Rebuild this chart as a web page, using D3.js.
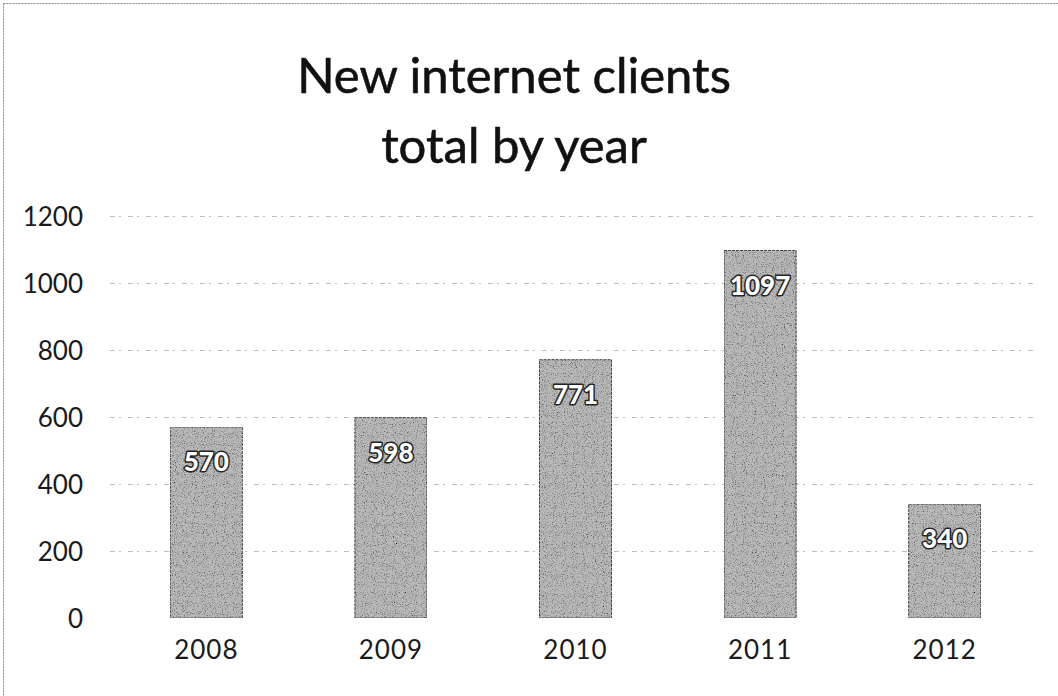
<!DOCTYPE html>
<html>
<head>
<meta charset="utf-8">
<script src="https://cdn.jsdelivr.net/npm/d3@7/dist/d3.min.js"></script>
<style>
  html, body { margin: 0; padding: 0; background: #fff; }
  svg { display: block; }
</style>
</head>
<body>
<svg id="chart" width="1058" height="696"></svg>
<script>
// Chart data
const years = ["2008", "2009", "2010", "2011", "2012"];
const clients = [570, 598, 771, 1097, 340];
const yTicks = [0, 200, 400, 600, 800, 1000, 1200];
const titleLines = ["New internet clients", "total by year"];

const W = 1058, H = 696;
const svg = d3.select("#chart");

// Grain texture used on the bar fills
const defs = svg.append("defs");
const grain = defs.append("filter").attr("id", "grain")
  .attr("x", 0).attr("y", 0).attr("width", 1).attr("height", 1);
grain.append("feTurbulence").attr("type", "fractalNoise")
  .attr("baseFrequency", 0.9).attr("numOctaves", 2).attr("seed", 7).attr("result", "noise");
grain.append("feColorMatrix").attr("in", "noise").attr("type", "matrix")
  .attr("values", "0 0 0 0 0  0 0 0 0 0  0 0 0 0 0  0 0 0 -2.4 1.2")
  .attr("result", "specks");
grain.append("feComposite").attr("in", "specks").attr("in2", "SourceGraphic")
  .attr("operator", "in").attr("result", "specksIn");
grain.append("feMerge").selectAll("feMergeNode")
  .data(["SourceGraphic", "specksIn"]).join("feMergeNode").attr("in", d => d);

// Frame
svg.append("rect")
  .attr("x", 3.5).attr("y", 3.5).attr("width", W + 10).attr("height", H + 10)
  .attr("fill", "none").attr("stroke", "#8a8a8a").attr("stroke-width", 1)
  .attr("stroke-dasharray", "2 1");

// Scales
const x = d3.scaleBand().domain(years).range([114, 1037])
  .paddingInner(0.61).paddingOuter(0.305);
const y = d3.scaleLinear().domain([0, 1200]).range([618, 216]);

// Title
svg.append("g").selectAll("text").data(titleLines).join("text")
  .attr("x", 514).attr("y", (d, i) => 93 + i * 70)
  .attr("text-anchor", "middle")
  .attr("font-family", "Lato, 'Open Sans', sans-serif")
  .attr("font-size", 49).attr("fill", "#111")
  .attr("stroke", "#111").attr("stroke-width", 0.6)
  .text(d => d);

// Gridlines
svg.append("g").selectAll("line").data(yTicks.filter(t => t > 0)).join("line")
  .attr("x1", 110).attr("x2", 1035)
  .attr("y1", d => y(d) + 0.5).attr("y2", d => y(d) + 0.5)
  .attr("stroke", "#9a9a9a").attr("stroke-width", 1)
  .attr("stroke-dasharray", "5 4 2 7").attr("opacity", 0.65);

// Y axis labels
const yAxis = d3.axisLeft(y).tickValues(yTicks).tickFormat(d3.format("d"))
  .tickSize(0).tickPadding(0);
const yg = svg.append("g").attr("transform", "translate(83,0)").call(yAxis);
yg.select(".domain").remove();
yg.selectAll("text")
  .attr("font-family", "Lato, 'Open Sans', sans-serif")
  .attr("font-size", 26).attr("fill", "#1a1a1a").attr("dy", "0.35em");

// X axis labels
const xAxis = d3.axisBottom(x).tickSize(0).tickPadding(0);
const xg = svg.append("g").attr("transform", "translate(0,650)").call(xAxis);
xg.select(".domain").remove();
xg.selectAll("text")
  .attr("font-family", "Lato, 'Open Sans', sans-serif")
  .attr("font-size", 26).attr("fill", "#1a1a1a").attr("dy", "0.35em")
  .attr("letter-spacing", 1);

// Bars
const data = years.map((yr, i) => ({ year: yr, value: clients[i] }));
svg.append("g").selectAll("rect").data(data).join("rect")
  .attr("x", d => x(d.year)).attr("y", d => y(d.value))
  .attr("width", x.bandwidth()).attr("height", d => y(0) - y(d.value))
  .attr("fill", "#b9b9b9").attr("stroke", "#4a4a4a").attr("stroke-width", 1)
  .attr("stroke-dasharray", "3 1")
  .attr("filter", "url(#grain)");

// Value labels inside the bars
svg.append("g").selectAll("text").data(data).join("text")
  .attr("x", d => x(d.year) + x.bandwidth() / 2)
  .attr("y", d => y(d.value) + 35)
  .attr("dy", "0.35em")
  .attr("text-anchor", "middle")
  .attr("font-family", "Lato, 'Open Sans', sans-serif")
  .attr("font-weight", 900).attr("font-size", 26)
  .attr("fill", "#fff").attr("stroke", "#222").attr("stroke-width", 3)
  .attr("paint-order", "stroke").attr("stroke-linejoin", "round")
  .text(d => d.value);
</script>
</body>
</html>
